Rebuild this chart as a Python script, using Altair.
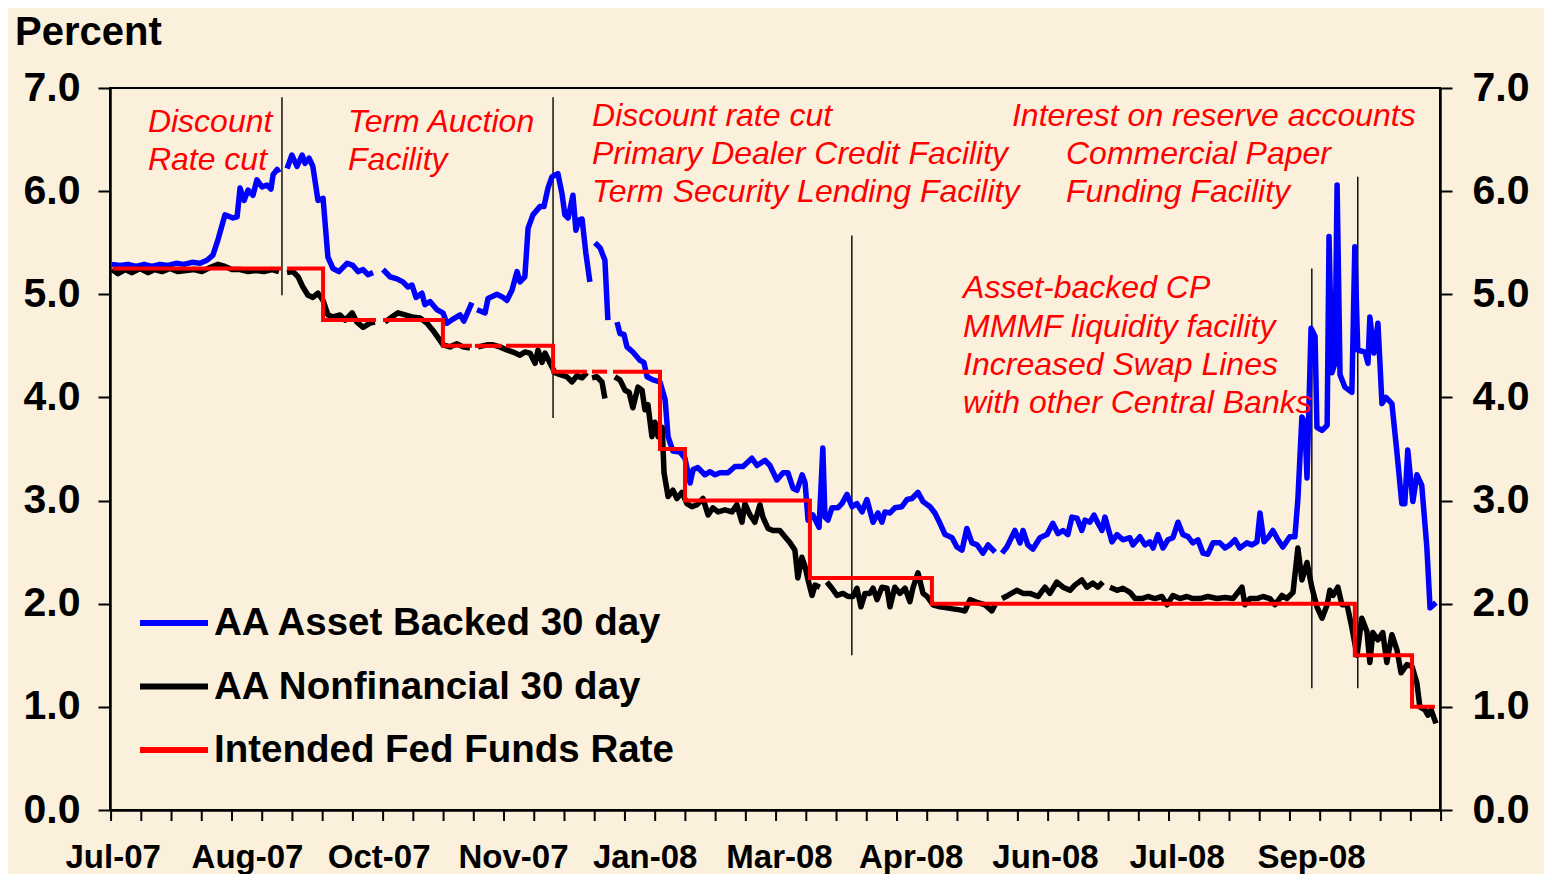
import altair as alt
import pandas as pd

START = pd.Timestamp("2007-07-01")
FONT = "Liberation Sans"
BG = "#FBF0DC"

SERIES = ["AA Asset Backed 30 day", "AA Nonfinancial 30 day", "Intended Fed Funds Rate"]
COLORS = ["#0000FF", "#000000", "#FF0000"]

# x values are days since 1 Jul 2007; each inner list is an unbroken run (gaps = no quote)
blue_days = [
    [0.7, 3.7, 6.7, 9.7, 12.7, 15.6, 18.6, 21.6, 24.6, 27.5, 30.5, 33.5, 36.1, 38.3, 40.2, 42.8, 45.8, 47.3,
     48.4, 49.9, 51.4, 53.2, 54.7, 56.6, 58.4, 59.9, 60.7, 62.2, 62.9],
    [65.9, 67.7, 69.6, 71.5, 72.6, 74.1, 75.5, 77.4, 79.3, 81.1, 83.0, 85.2, 88.2, 90.4, 92.3, 94.2, 96.0, 97.9],
    [101.6, 104.2, 106.8, 109.0, 110.9, 112.4, 113.9, 116.1, 117.2, 119.1, 121.7, 123.9, 125.4, 127.7, 130.3,
     131.7, 134.7],
    [136.6, 139.6, 140.7, 144.0, 146.3, 147.7, 149.6, 151.5, 152.6, 154.4, 155.6, 157.4, 160.0, 161.5, 163.0,
     164.5, 166.7, 168.2, 169.3, 170.5, 172.3, 173.4, 174.5, 175.7, 177.1, 178.6],
    [180.5, 182.4, 184.2, 185.3],
    [188.7, 189.8, 191.3, 192.4, 194.6, 197.2, 198.7, 199.9, 202.1, 204.7,
     206.6, 207.7, 209.5, 212.1, 214.0, 215.9, 217.0, 218.8, 221.4, 223.3,
     225.2, 227.0, 230.0, 232.6, 235.6, 238.9, 240.8, 243.8, 245.6, 248.2,
     250.5, 252.3, 254.2, 255.7, 257.6, 258.7, 259.8, 261.6, 263.9, 265.3,
     266.1, 267.2, 268.7, 270.9, 272.4, 274.3, 276.2, 278.0, 279.9, 281.7,
     284.0, 285.8, 287.3, 288.4, 290.3, 292.1, 294.7, 296.6, 298.5, 300.7,
     302.6, 305.2, 307.0, 308.9, 310.8, 313.4, 315.2, 317.1, 318.9, 320.8,
     322.7, 324.9, 326.8, 329.4],
    [332.0, 333.8, 336.8, 338.7, 339.8, 341.6, 343.5, 346.1, 348.7, 350.9,
     352.8, 354.7, 356.5, 358.0, 359.9, 361.7, 362.9, 364.7, 366.2, 367.7,
     369.2, 370.3, 372.9, 374.8, 377.0, 379.6, 380.7, 383.3, 385.2, 387.0,
     388.2, 390.0, 391.9, 393.7, 395.6, 397.5, 399.3, 401.2, 403.0, 404.9,
     406.8, 408.6, 410.5, 413.1, 415.0, 416.8, 418.7, 420.5, 423.1, 425.0,
     426.9, 428.0, 429.5, 431.0, 432.8, 434.7, 436.5, 439.1, 441.0, 442.1,
     443.6, 444.7, 445.5, 447.0, 448.5, 449.2, 451.1, 453.0, 453.7, 454.8,
     455.9, 456.7, 457.8, 459.6, 462.2, 463.3, 464.4, 467.1, 468.2, 468.9,
     470.4, 471.9, 473.4, 474.9, 477.1, 479.0, 480.8, 481.9, 483.0, 484.9,
     486.4, 488.2, 490.1, 491.3, 493.5],
]
blue_vals = [
    [5.29, 5.28, 5.29, 5.27, 5.29, 5.27, 5.29, 5.28, 5.30, 5.29, 5.31, 5.30, 5.33, 5.38, 5.53, 5.77, 5.74, 5.75,
     6.03, 5.91, 6.01, 5.96, 6.11, 6.04, 6.06, 6.02, 6.16, 6.21, 6.18],
    [6.22, 6.35, 6.24, 6.35, 6.27, 6.32, 6.24, 5.91, 5.93, 5.36, 5.25, 5.22, 5.30, 5.28, 5.22, 5.24, 5.19, 5.21],
    [5.24, 5.17, 5.15, 5.12, 5.07, 5.09, 4.97, 5.01, 4.90, 4.93, 4.85, 4.82, 4.72, 4.76, 4.80, 4.74, 4.92],
    [4.85, 4.82, 4.96, 5.00, 4.97, 4.94, 5.04, 5.22, 5.12, 5.17, 5.64, 5.77, 5.85, 5.85, 6.03, 6.14, 6.17, 5.98,
     5.77, 5.74, 5.96, 5.62, 5.72, 5.73, 5.40, 5.12],
    [5.50, 5.45, 5.33, 4.75],
    [4.73, 4.62, 4.61, 4.49, 4.44, 4.36, 4.34, 4.20, 4.17, 4.15,
     3.98, 3.62, 3.48, 3.47, 3.41, 3.17, 3.30, 3.32, 3.25, 3.28,
     3.25, 3.27, 3.27, 3.33, 3.33, 3.41, 3.34, 3.39, 3.34, 3.20,
     3.27, 3.27, 3.12, 3.10, 3.25, 3.17, 2.81, 2.86, 2.74, 3.51,
     2.84, 2.81, 2.93, 2.93, 2.97, 3.06, 2.94, 2.97, 2.89, 3.01,
     2.79, 2.88, 2.79, 2.89, 2.88, 2.93, 2.94, 3.01, 3.02, 3.08,
     2.99, 2.94, 2.88, 2.78, 2.67, 2.64, 2.55, 2.52, 2.73, 2.59,
     2.57, 2.49, 2.57, 2.50],
    [2.49, 2.55, 2.71, 2.59, 2.71, 2.57, 2.53, 2.64, 2.67, 2.78,
     2.68, 2.71, 2.67, 2.84, 2.83, 2.71, 2.81, 2.79, 2.86, 2.78,
     2.71, 2.84, 2.60, 2.67, 2.62, 2.64, 2.57, 2.65, 2.57, 2.60,
     2.54, 2.67, 2.54, 2.62, 2.64, 2.79, 2.67, 2.65, 2.59, 2.62,
     2.49, 2.48, 2.59, 2.59, 2.54, 2.57, 2.62, 2.54, 2.59, 2.57,
     2.60, 2.88, 2.60, 2.64, 2.71, 2.62, 2.55, 2.65, 2.65, 3.01,
     3.81, 3.75, 3.22, 4.67, 4.59, 3.71, 3.68, 3.73, 5.56, 4.24,
     4.33, 6.06, 4.22, 4.10, 4.05, 5.46, 4.46, 4.44, 4.33, 4.78,
     4.43, 4.72, 3.94, 4.00, 3.94, 3.46, 2.97, 2.97, 3.49, 2.99,
     3.25, 3.15, 2.55, 1.96, 2.01],
]

black_days = [
    [0.7, 3.0, 5.6, 8.2, 11.2, 14.1, 16.7, 19.4, 22.3, 25.3, 28.3, 31.3, 34.2, 37.2, 40.2, 42.8, 45.4, 48.4,
     51.4, 54.3, 57.3, 60.3, 62.9],
    [65.9, 68.1, 70.0, 71.8, 73.7, 75.5, 77.4, 79.3, 81.1, 83.0, 85.6, 87.5, 90.1, 91.9, 94.2, 96.8, 98.6],
    [102.3, 104.9, 107.2, 109.8, 112.4, 115.4, 118.0, 120.2, 122.1, 123.9, 126.5, 129.1, 131.4, 134.0],
    [137.0, 140.3, 142.5, 145.1, 147.7, 150.0, 152.6, 154.4, 156.3, 158.2, 159.3, 160.8, 161.9, 163.8, 165.6,
     167.5, 170.1, 171.9, 173.8, 175.7, 177.5],
    [179.4, 181.2, 183.1, 184.2],
    [187.9, 189.8, 191.7, 193.2, 194.6, 196.5, 198.0, 199.1, 200.2, 201.7,
     202.8, 204.0, 205.5, 206.2, 207.7, 209.5, 211.0, 212.9, 214.7, 216.6,
     218.5, 220.7, 222.6, 224.4, 226.3, 228.9, 231.5, 233.3, 235.2, 236.3,
     238.2, 240.0, 241.9, 243.0, 244.9, 246.7, 249.3, 251.2, 253.1, 254.9,
     256.0, 257.5, 258.7, 259.8, 261.3, 262.4, 264.2],
    [266.8, 268.7, 270.6, 272.8, 274.7, 276.5, 278.0, 279.5, 281.0, 282.8,
     284.0, 285.5, 287.3, 289.2, 290.3, 292.1, 294.0, 295.9, 297.7, 298.8,
     300.7, 302.6, 304.1, 306.3, 308.9, 311.5, 313.7, 316.3, 318.2, 320.1,
     323.0, 325.6, 328.2, 329.4],
    [332.0, 334.2, 337.5, 339.8, 342.4, 345.4, 348.0, 349.8, 352.4, 354.7, 357.3, 359.1, 361.7, 363.6, 365.8,
     367.7, 369.5],
    [372.2, 374.8, 377.0, 379.6, 381.5, 384.1, 386.3, 388.9, 391.5, 393.4,
     395.6, 398.2, 400.8, 403.0, 405.7, 408.6, 412.0, 415.0, 418.0, 421.3,
     422.4, 424.3, 426.9, 429.1, 431.7, 433.6, 436.2, 438.0, 440.3, 442.1,
     443.6, 445.5, 447.3, 449.2, 451.1, 453.0, 454.0, 455.2, 457.0, 458.5,
     460.4, 462.2, 464.1, 465.9, 467.8, 468.9, 470.0, 471.9, 473.7, 475.2,
     477.1, 479.0, 480.5, 482.7, 484.6, 486.4, 487.5, 489.4, 490.5, 491.7, 493.5],
]
black_vals = [
    [5.24, 5.20, 5.24, 5.21, 5.25, 5.21, 5.24, 5.22, 5.25, 5.22, 5.23, 5.24, 5.22, 5.26, 5.29, 5.27, 5.24, 5.24,
     5.22, 5.23, 5.22, 5.24, 5.22],
    [5.21, 5.22, 5.17, 5.07, 4.99, 4.97, 5.01, 4.94, 4.80, 4.78, 4.80, 4.75, 4.82, 4.73, 4.68, 4.72, 4.73],
    [4.73, 4.78, 4.82, 4.80, 4.78, 4.77, 4.72, 4.65, 4.58, 4.51, 4.49, 4.52, 4.49, 4.48],
    [4.49, 4.51, 4.51, 4.49, 4.46, 4.44, 4.41, 4.44, 4.43, 4.33, 4.46, 4.34, 4.43, 4.33, 4.24, 4.22, 4.20, 4.15,
     4.21, 4.19, 4.24],
    [4.19, 4.20, 4.15, 3.99],
    [4.20, 4.17, 4.07, 4.05, 3.90, 4.10, 4.07, 3.88, 3.93, 3.62,
     3.76, 3.62, 3.71, 3.27, 3.04, 3.10, 3.02, 3.08, 2.97, 2.94,
     2.96, 3.02, 2.86, 2.93, 2.89, 2.91, 2.89, 2.96, 2.79, 2.97,
     2.86, 2.79, 2.96, 2.84, 2.73, 2.71, 2.71, 2.65, 2.59, 2.52,
     2.25, 2.45, 2.36, 2.23, 2.08, 2.18, 2.16],
    [2.21, 2.15, 2.08, 2.10, 2.07, 2.07, 2.15, 1.97, 2.10, 2.10,
     2.15, 2.04, 2.16, 2.15, 1.97, 2.16, 2.10, 2.15, 2.02, 2.15,
     2.30, 2.10, 2.07, 1.99, 1.97, 1.96, 1.95, 1.94, 1.93, 2.04,
     2.01, 1.99, 1.93, 1.99],
    [2.05, 2.08, 2.13, 2.10, 2.10, 2.07, 2.16, 2.10, 2.21, 2.16, 2.13, 2.18, 2.23, 2.16, 2.20, 2.16, 2.21],
    [2.16, 2.13, 2.15, 2.11, 2.05, 2.05, 2.07, 2.05, 2.07, 1.99,
     2.08, 2.05, 2.07, 2.05, 2.05, 2.07, 2.05, 2.06, 2.05, 2.16,
     1.99, 2.05, 2.05, 2.07, 2.05, 1.99, 2.08, 2.05, 2.11, 2.54,
     2.23, 2.40, 2.16, 1.97, 1.86, 1.99, 2.13, 2.08, 2.16, 1.99,
     1.99, 1.77, 1.50, 1.86, 1.73, 1.43, 1.72, 1.65, 1.72, 1.43,
     1.70, 1.55, 1.33, 1.41, 1.39, 1.23, 1.00, 0.97, 0.92, 0.97, 0.84],
]

# Intended Fed Funds Rate: change points (drawn as steps)
red_days = [
    [1.0, 64.0],
    [65.9, 79.3, 99.0],
    [101.6, 123.9, 134.7],
    [135.8, 145.9],
    [147.4, 164.9, 177.5],
    [179.4, 185.0],
    [187.2, 204.7, 214.0, 260.5, 305.9, 463.3, 484.6, 493.1],
]
red_vals = [
    [5.25, 5.25],
    [5.25, 4.75, 4.75],
    [4.75, 4.50, 4.50],
    [4.50, 4.50],
    [4.50, 4.25, 4.25],
    [4.25, 4.25],
    [4.25, 3.50, 3.00, 2.25, 2.00, 1.50, 1.00, 1.00],
]

# policy event markers
event_days = [64.0, 164.9, 276.1, 447.3, 464.4]
event_lo = [4.99, 3.80, 1.50, 1.18, 1.18]
event_hi = [6.91, 6.91, 5.57, 5.25, 6.14]

ann_text = ["Discount", "Rate cut", "Term Auction", "Facility",
            "Discount rate cut", "Primary Dealer Credit Facility", "Term Security Lending Facility",
            "Interest on reserve accounts", "Commercial Paper", "Funding Facility",
            "Asset-backed CP", "MMMF liquidity facility", "Increased Swap Lines", "with other Central Banks"]
ann_day = [14.1, 14.1, 88.6, 88.6, 179.4, 179.4, 179.4, 335.7, 355.8, 355.8, 317.5, 317.5, 317.5, 317.5]
ann_val = [6.67, 6.30, 6.67, 6.30, 6.73, 6.36, 5.99, 6.73, 6.36, 5.99, 5.06, 4.68, 4.31, 3.95]

# x-axis labels (date positions) and minor tick marks
label_dates = [(2007, 7, 2, 0), (2007, 8, 21, 0), (2007, 10, 9, 0), (2007, 11, 28, 0), (2008, 1, 16, 0),
               (2008, 3, 6, 0), (2008, 4, 24, 0), (2008, 6, 13, 0), (2008, 7, 31, 23), (2008, 9, 20, 0)]
tick_days = [0.4 + 11.25 * k for k in range(45)]


def to_date(d):
    return START + pd.Timedelta(days=d)


def build(name, day_runs, val_runs):
    rows = []
    for s, (ds, vs) in enumerate(zip(day_runs, val_runs)):
        assert len(ds) == len(vs), (name, s)
        for d, v in zip(ds, vs):
            rows.append({"date": to_date(d), "value": v, "series": name, "seg": s})
    return pd.DataFrame(rows)


df_blue = build(SERIES[0], blue_days, blue_vals)
df_black = build(SERIES[1], black_days, black_vals)
df_red = build(SERIES[2], red_days, red_vals)
df_ev = pd.DataFrame({"date": [to_date(d) for d in event_days], "lo": event_lo, "hi": event_hi})
df_ann = pd.DataFrame({"date": [to_date(d) for d in ann_day], "value": ann_val, "text": ann_text})
df_ticks = pd.DataFrame({"date": [to_date(d) for d in tick_days]})

x_scale = alt.Scale(domain=[alt.DateTime(year=2007, month=7, date=1),
                            alt.DateTime(year=2008, month=11, date=7)])
x_axis = alt.Axis(values=[alt.DateTime(year=y, month=m, date=d, hours=h) for (y, m, d, h) in label_dates],
                  format="%b-%y", labelFont=FONT, labelFontSize=33, labelFontWeight="bold",
                  labelColor="black", tickSize=0, labelPadding=31, domainColor="black", domainWidth=2.5,
                  grid=False, title=None, labelFlush=False, labelOverlap=False)
x_enc = alt.X("date:T", scale=x_scale, axis=x_axis)

y_scale = alt.Scale(domain=[0, 7], nice=False, zero=False)
axis_common = dict(values=list(range(8)), format=".1f", labelFont=FONT, labelFontSize=41,
                   labelFontWeight="bold", labelColor="black", tickSize=12, tickWidth=2, tickColor="black",
                   domainColor="black", domainWidth=2.5, grid=False, title=None)
y_left = alt.Axis(orient="left", labelPadding=18, **axis_common)
y_right = alt.Axis(orient="right", labelPadding=20, **axis_common)

legend = alt.Legend(orient="none", legendX=44, legendY=515, direction="vertical", title=None,
                    labelFont=FONT, labelFontSize=38.5, labelFontWeight="bold", labelColor="black",
                    labelLimit=0, symbolType="M-2,0H2", symbolSize=1156, symbolStrokeWidth=6,
                    rowPadding=23.5, labelOffset=20, padding=0, offset=0)
color_enc = alt.Color("series:N", scale=alt.Scale(domain=SERIES, range=COLORS), legend=legend)

events = alt.Chart(df_ev).mark_rule(color="black", strokeWidth=1.4).encode(
    x=x_enc, y=alt.Y("lo:Q", scale=y_scale, axis=y_left), y2="hi:Q")

blue = alt.Chart(df_blue).mark_line(strokeWidth=5.5, strokeJoin="round").encode(
    x=x_enc, y=alt.Y("value:Q", scale=y_scale, axis=y_left), color=color_enc, detail="seg:N")
black = alt.Chart(df_black).mark_line(strokeWidth=5.5, strokeJoin="round").encode(
    x=x_enc, y=alt.Y("value:Q", scale=y_scale, axis=y_left), color=color_enc, detail="seg:N")
red = alt.Chart(df_red).mark_line(strokeWidth=4, interpolate="step-after").encode(
    x=x_enc, y=alt.Y("value:Q", scale=y_scale, axis=y_left), color=color_enc, detail="seg:N")

ann = alt.Chart(df_ann).mark_text(align="left", baseline="middle", font=FONT, fontStyle="italic",
                                  fontSize=32, color="#FF0000").encode(
    x=x_enc, y=alt.Y("value:Q", scale=y_scale, axis=y_left), text="text:N")

ticks = alt.Chart(df_ticks).mark_rule(color="black", strokeWidth=2).encode(
    x=x_enc, y=alt.value(722), y2=alt.value(733))

title = alt.Chart(pd.DataFrame({"t": ["Percent"]})).mark_text(
    align="left", baseline="alphabetic", font=FONT, fontSize=40, fontWeight="bold", color="black").encode(
    x=alt.value(-95), y=alt.value(-43), text="t:N")

right = alt.Chart(pd.DataFrame({"value": [0.0]})).mark_point(opacity=0).encode(
    y=alt.Y("value:Q", scale=y_scale, axis=y_right))

main = alt.layer(events, blue, black, red, ann, ticks, title)

chart = alt.layer(main, right).resolve_scale(y="independent").properties(
    width=1330, height=722,
    padding={"left": 102, "top": 80, "right": 104, "bottom": 64},
    autosize=alt.AutoSizeParams(type="none"),
).configure(background=BG).configure_view(stroke="black", strokeWidth=2)

chart.save("out.html", embed_options={"renderer": "svg", "actions": False})
